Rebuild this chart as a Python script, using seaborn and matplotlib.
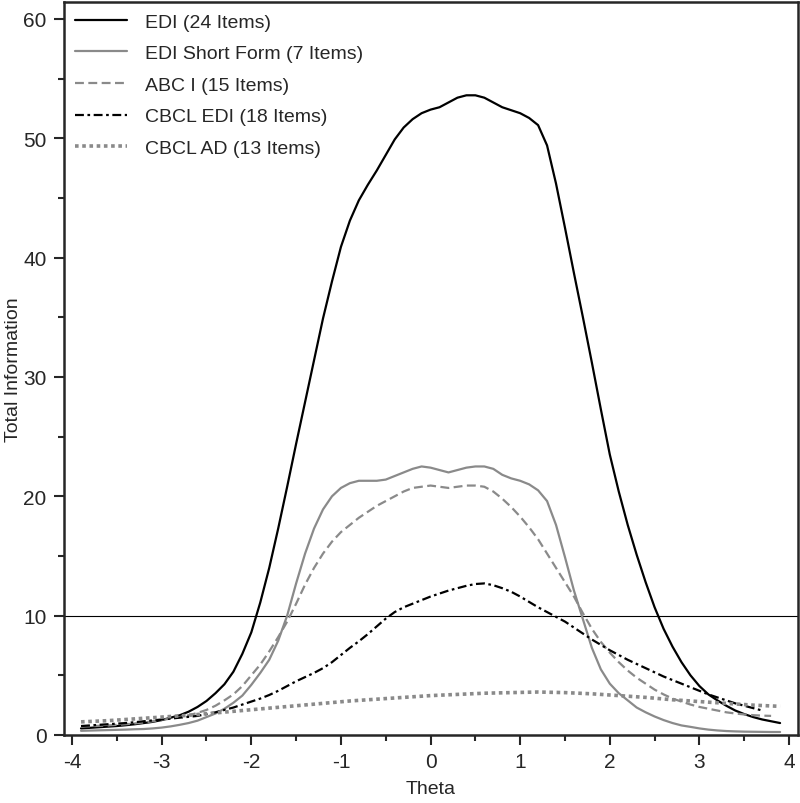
import numpy as np
import pandas as pd
import matplotlib
matplotlib.use("Agg")
import matplotlib.pyplot as plt
from matplotlib.ticker import MultipleLocator
import seaborn as sns

# theta grid (step 0.1) shared by the first four curves
theta = np.round(np.arange(-3.9, 3.91, 0.1), 2)

edi = [0.55, 0.6, 0.65, 0.7, 0.75, 0.82, 0.9, 1.0, 1.1, 1.25,
       1.45, 1.65, 1.95, 2.35, 2.85, 3.5, 4.25, 5.3, 6.8, 8.6,
       11.1, 14.0, 17.3, 20.8, 24.4, 27.9, 31.4, 34.9, 38.0, 40.9,
       43.1, 44.8, 46.1, 47.3, 48.6, 49.9, 50.9, 51.6, 52.1, 52.4,
       52.6, 53.0, 53.4, 53.6, 53.6, 53.4, 53.0, 52.6, 52.35, 52.1,
       51.7, 51.1, 49.4, 46.2, 42.5, 38.7, 35.0, 31.2, 27.3, 23.5,
       20.4, 17.6, 15.1, 12.8, 10.7, 8.9, 7.4, 6.1, 5.0, 4.1,
       3.4, 2.9, 2.45, 2.05, 1.75, 1.5, 1.3, 1.15, 1.0]

edi_sf = [0.35, 0.37, 0.39, 0.41, 0.43, 0.45, 0.48, 0.5, 0.55, 0.62,
          0.72, 0.85, 1.0, 1.2, 1.5, 1.8, 2.2, 2.7, 3.3, 4.2,
          5.2, 6.3, 7.9, 10.0, 12.7, 15.2, 17.3, 18.9, 20.0, 20.7,
          21.1, 21.3, 21.3, 21.3, 21.4, 21.7, 22.0, 22.3, 22.5, 22.4,
          22.2, 22.0, 22.2, 22.4, 22.5, 22.5, 22.3, 21.8, 21.5, 21.3,
          21.0, 20.5, 19.6, 17.6, 14.9, 12.1, 9.7, 7.3, 5.5, 4.3,
          3.5, 2.9, 2.3, 1.9, 1.55, 1.25, 1.0, 0.8, 0.68, 0.55,
          0.45, 0.38, 0.33, 0.3, 0.28, 0.27, 0.26, 0.25, 0.25]

abc_i = [0.7, 0.73, 0.77, 0.8, 0.85, 0.9, 0.97, 1.05, 1.15, 1.25,
         1.38, 1.5, 1.65, 1.85, 2.1, 2.45, 2.9, 3.4, 4.1, 5.0,
         5.9, 7.0, 8.2, 9.5, 11.0, 12.6, 14.0, 15.2, 16.2, 17.0,
         17.6, 18.2, 18.7, 19.2, 19.6, 20.0, 20.4, 20.7, 20.8, 20.9,
         20.8, 20.7, 20.8, 20.9, 20.9, 20.8, 20.4, 19.8, 19.1, 18.3,
         17.4, 16.4, 15.2, 14.0, 12.8, 11.6, 10.2, 8.9, 7.8, 6.9,
         6.1, 5.4, 4.8, 4.3, 3.8, 3.4, 3.05, 2.8, 2.55, 2.35,
         2.2, 2.05, 1.9, 1.8, 1.72, 1.66, 1.62, 1.6]

cbcl_edi = [0.75, 0.8, 0.85, 0.9, 0.95, 1.0, 1.07, 1.15, 1.22, 1.3,
            1.37, 1.45, 1.52, 1.6, 1.75, 1.9, 2.1, 2.3, 2.55, 2.8,
            3.05, 3.35, 3.7, 4.1, 4.5, 4.85, 5.2, 5.6, 6.1, 6.7,
            7.3, 7.85, 8.45, 9.1, 9.75, 10.3, 10.7, 11.0, 11.3, 11.6,
            11.85, 12.1, 12.3, 12.5, 12.65, 12.7, 12.55, 12.3, 12.0, 11.6,
            11.15, 10.7, 10.3, 9.9, 9.5, 9.0, 8.5, 8.0, 7.55, 7.1,
            6.7, 6.3, 5.95, 5.6, 5.25, 4.9, 4.6, 4.3, 4.0, 3.7,
            3.4, 3.15, 2.9, 2.65, 2.45, 2.25, 2.05]

theta_ad = np.round(np.arange(-3.9, 3.91, 0.3), 2)
cbcl_ad = [1.1, 1.2, 1.35, 1.5, 1.65, 1.85, 2.05, 2.25, 2.45, 2.65,
           2.85, 3.0, 3.15, 3.3, 3.4, 3.5, 3.55, 3.6, 3.55, 3.45,
           3.3, 3.15, 2.95, 2.8, 2.65, 2.5, 2.4]

labels = ["EDI (24 Items)", "EDI Short Form (7 Items)", "ABC I (15 Items)",
          "CBCL EDI (18 Items)", "CBCL AD (13 Items)"]

sns.set_style("ticks")
plt.rcParams["font.family"] = ["Liberation Sans", "DejaVu Sans"]
plt.rcParams["axes.unicode_minus"] = False

fig, ax = plt.subplots(figsize=(8, 8.04), dpi=100)
fig.subplots_adjust(left=0.08, right=0.9975, top=0.996, bottom=0.0846)

gray = "#8a8a8a"
series = [
    (theta[:len(edi)], edi, "black", "-", 1.6),
    (theta[:len(edi_sf)], edi_sf, gray, "-", 1.6),
    (theta[:len(abc_i)], abc_i, gray, (0, (4, 2)), 1.6),
    (theta[:len(cbcl_edi)], cbcl_edi, "black", (0, (4, 1.6, 1.2, 1.6)), 1.6),
    (theta_ad, cbcl_ad, gray, (0, (1, 1)), 2.6),
]
for (x, y, c, ls, lw), lab in zip(series, labels):
    df = pd.DataFrame({"Theta": x, "Info": y})
    sns.lineplot(data=df, x="Theta", y="Info", ax=ax, color=c,
                 linestyle=ls, linewidth=lw, label=lab)

ax.axhline(10, color="black", linewidth=0.8, zorder=0)

ax.set_xlim(-4.09, 4.1)
ax.set_ylim(0, 61.4)
ax.xaxis.set_major_locator(MultipleLocator(1))
ax.xaxis.set_minor_locator(MultipleLocator(0.5))
ax.yaxis.set_major_locator(MultipleLocator(10))
ax.yaxis.set_minor_locator(MultipleLocator(5))
ax.tick_params(which="major", length=7.5, width=1.5, labelsize=15, pad=5)
ax.tick_params(which="minor", length=4, width=1.5)
ax.tick_params(top=False, right=False, which="both")
for s in ax.spines.values():
    s.set_linewidth(1.8)
    s.set_visible(True)

ax.set_xlabel("Theta", fontsize=14, labelpad=6)
ax.set_ylabel("Total Information", fontsize=14, labelpad=1)

ax.legend(loc="upper left", frameon=False, fontsize=14, handlelength=2.7,
          labelspacing=0.72, borderaxespad=0.15, handletextpad=0.9)

fig.savefig("out.png", dpi=100)
